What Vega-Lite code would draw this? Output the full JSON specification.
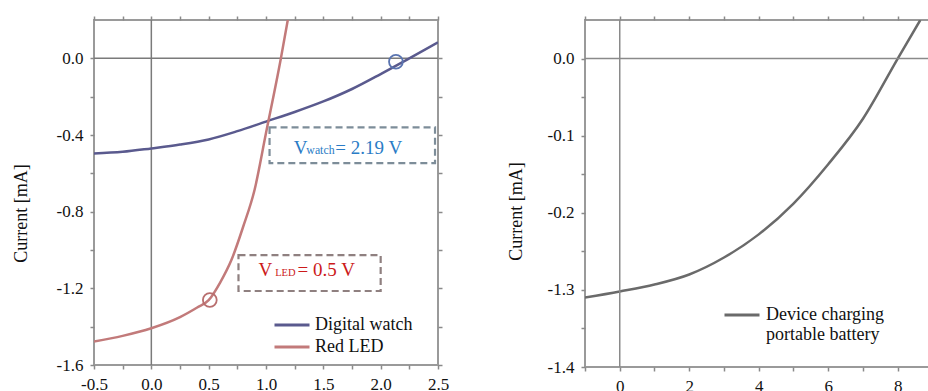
{
  "$schema": "https://vega.github.io/schema/vega-lite/v6.json",
  "background": "white",
  "padding": {"left": 11, "top": 14, "right": 0, "bottom": 0},
  "spacing": 56,
  "config": {
    "view": {"stroke": "#9a9a9a", "strokeWidth": 2},
    "font": "Liberation Serif",
    "axis": {
      "labelFont": "Liberation Serif", "labelFontSize": 17, "labelColor": "#111111",
      "titleFont": "Liberation Serif", "titleFontSize": 18, "titleFontWeight": "normal", "titleColor": "#111111",
      "domain": false, "grid": false, "tickColor": "#8a8a8a", "tickSize": 4, "tickWidth": 1.5,
      "labelFlush": false, "labelOverlap": false, "labelPadding": 7
    },
    "legend": {
      "labelFont": "Liberation Serif", "labelFontSize": 18, "labelColor": "#111111",
      "symbolType": "stroke", "symbolStrokeWidth": 3, "symbolSize": 1225, "labelOffset": 4,
      "rowPadding": 2, "padding": 0, "clipHeight": 20
    }
  },
  "resolve": {"scale": {"color": "independent"}, "legend": {"color": "independent"}},
  "datasets": {
    "left": [
      {"device": "Digital watch", "voltage": -0.5, "current": -0.496},
      {"device": "Digital watch", "voltage": -0.25, "current": -0.488},
      {"device": "Digital watch", "voltage": 0, "current": -0.47},
      {"device": "Digital watch", "voltage": 0.25, "current": -0.45},
      {"device": "Digital watch", "voltage": 0.5, "current": -0.423},
      {"device": "Digital watch", "voltage": 0.75, "current": -0.38},
      {"device": "Digital watch", "voltage": 1.0, "current": -0.33},
      {"device": "Digital watch", "voltage": 1.25, "current": -0.28},
      {"device": "Digital watch", "voltage": 1.5, "current": -0.225},
      {"device": "Digital watch", "voltage": 1.75, "current": -0.16},
      {"device": "Digital watch", "voltage": 2.0, "current": -0.082},
      {"device": "Digital watch", "voltage": 2.25, "current": 0.0},
      {"device": "Digital watch", "voltage": 2.5, "current": 0.083},
      {"device": "Red LED", "voltage": -0.5, "current": -1.478},
      {"device": "Red LED", "voltage": -0.25, "current": -1.448},
      {"device": "Red LED", "voltage": 0, "current": -1.408},
      {"device": "Red LED", "voltage": 0.25, "current": -1.35},
      {"device": "Red LED", "voltage": 0.4, "current": -1.3},
      {"device": "Red LED", "voltage": 0.5, "current": -1.262},
      {"device": "Red LED", "voltage": 0.6, "current": -1.17},
      {"device": "Red LED", "voltage": 0.7, "current": -1.05},
      {"device": "Red LED", "voltage": 0.8, "current": -0.88},
      {"device": "Red LED", "voltage": 0.9, "current": -0.687},
      {"device": "Red LED", "voltage": 1.0, "current": -0.39},
      {"device": "Red LED", "voltage": 1.13, "current": 0.0},
      {"device": "Red LED", "voltage": 1.19, "current": 0.2}
    ],
    "right": [
      {"device": "Device charging portable battery", "voltage": -1, "current": -0.31},
      {"device": "Device charging portable battery", "voltage": 0, "current": -0.302},
      {"device": "Device charging portable battery", "voltage": 1, "current": -0.293},
      {"device": "Device charging portable battery", "voltage": 2, "current": -0.28},
      {"device": "Device charging portable battery", "voltage": 3, "current": -0.258},
      {"device": "Device charging portable battery", "voltage": 4, "current": -0.228},
      {"device": "Device charging portable battery", "voltage": 5, "current": -0.188},
      {"device": "Device charging portable battery", "voltage": 6, "current": -0.137},
      {"device": "Device charging portable battery", "voltage": 7, "current": -0.078},
      {"device": "Device charging portable battery", "voltage": 8, "current": 0.0},
      {"device": "Device charging portable battery", "voltage": 8.65, "current": 0.05}
    ],
    "watchPoint": [{"voltage": 2.133, "current": -0.018}],
    "ledPoint": [{"voltage": 0.51, "current": -1.261}],
    "watchBox": [{"x1": 1.031, "x2": 2.474, "y1": -0.36, "y2": -0.547}],
    "ledBox": [{"x1": 0.76, "x2": 2.0, "y1": -1.027, "y2": -1.214}],
    "watchMain": [{"x": 1.241, "y": -0.497, "t": "V"}, {"x": 1.605, "y": -0.497, "t": "= 2.19 V"}],
    "watchSub": [{"x": 1.352, "y": -0.5, "t": "watch"}],
    "ledMain": [{"x": 0.935, "y": -1.136, "t": "V"}, {"x": 1.275, "y": -1.136, "t": "= 0.5 V"}],
    "ledSub": [{"x": 1.08, "y": -1.138, "t": "LED"}]
  },
  "hconcat": [
    {
      "width": 344,
      "height": 345,
      "layer": [
        {
          "data": {"values": [{}]},
          "mark": {"type": "rule", "color": "#7a7a7a", "strokeWidth": 1.5},
          "encoding": {
            "x": {"datum": 0, "type": "quantitative",
              "scale": {"domain": [-0.5, 2.5], "nice": false, "zero": false},
              "axis": {"orient": "top", "labels": false, "title": null,
                "values": [-0.5, -0.25, 0, 0.25, 0.5, 0.75, 1, 1.25, 1.5, 1.75, 2, 2.25, 2.5]}}
          }
        },
        {
          "data": {"values": [{}]},
          "mark": {"type": "rule", "color": "#7a7a7a", "strokeWidth": 1.5},
          "encoding": {
            "y": {"datum": 0, "type": "quantitative",
              "scale": {"domain": [-1.6, 0.2], "nice": false, "zero": false},
              "axis": {"orient": "right", "labels": false, "title": null,
                "values": [-1.6, -1.4, -1.2, -1.0, -0.8, -0.6, -0.4, -0.2, 0]}}
          }
        },
        {
          "data": {"name": "left"},
          "mark": {"type": "line", "interpolate": "monotone", "strokeWidth": 2.5, "clip": true},
          "encoding": {
            "x": {"field": "voltage", "type": "quantitative",
              "axis": {"orient": "bottom", "title": null,
                "values": [-0.5, -0.25, 0, 0.25, 0.5, 0.75, 1, 1.25, 1.5, 1.75, 2, 2.25, 2.5],
                "labelExpr": "abs(datum.value*2 - round(datum.value*2)) < 0.01 ? replace(format(datum.value, '.1f'), '\u2212', '-') : ''"}},
            "y": {"field": "current", "type": "quantitative",
              "axis": {"orient": "left", "title": "Current [mA]", "titlePadding": 26, "titleY": 193,
                "values": [-1.6, -1.4, -1.2, -1.0, -0.8, -0.6, -0.4, -0.2, 0],
                "labelExpr": "abs(datum.value/0.4 - round(datum.value/0.4)) < 0.01 ? replace(format(datum.value, '.1f'), '\u2212', '-') : ''"}},
            "color": {"field": "device", "type": "nominal",
              "scale": {"domain": ["Digital watch", "Red LED"], "range": ["#5a5a8e", "#c27a7a"]},
              "legend": {"orient": "none", "legendX": 179, "legendY": 295, "title": null,
                "labelFont": "Liberation Serif", "labelFontSize": 18}}
          }
        },
        {
          "data": {"name": "watchPoint"},
          "mark": {"type": "point", "filled": false, "size": 190, "strokeWidth": 1.8, "color": "#5a74b0", "opacity": 1},
          "encoding": {
            "x": {"field": "voltage", "type": "quantitative", "axis": null},
            "y": {"field": "current", "type": "quantitative", "axis": null}
          }
        },
        {
          "data": {"name": "ledPoint"},
          "mark": {"type": "point", "filled": false, "size": 190, "strokeWidth": 1.8, "color": "#b86e6e", "opacity": 1},
          "encoding": {
            "x": {"field": "voltage", "type": "quantitative", "axis": null},
            "y": {"field": "current", "type": "quantitative", "axis": null}
          }
        },
        {
          "data": {"name": "watchBox"},
          "mark": {"type": "rect", "fill": "white", "fillOpacity": 0, "stroke": "#7d8d99", "strokeWidth": 2.2, "strokeDash": [7, 4]},
          "encoding": {
            "x": {"field": "x1", "type": "quantitative", "axis": null},
            "x2": {"field": "x2"},
            "y": {"field": "y1", "type": "quantitative", "axis": null},
            "y2": {"field": "y2"}
          }
        },
        {
          "data": {"name": "ledBox"},
          "mark": {"type": "rect", "fill": "white", "fillOpacity": 0, "stroke": "#8f8080", "strokeWidth": 2.2, "strokeDash": [7, 4]},
          "encoding": {
            "x": {"field": "x1", "type": "quantitative", "axis": null},
            "x2": {"field": "x2"},
            "y": {"field": "y1", "type": "quantitative", "axis": null},
            "y2": {"field": "y2"}
          }
        },
        {
          "data": {"name": "watchMain"},
          "mark": {"type": "text", "align": "left", "baseline": "alphabetic", "fontSize": 19, "font": "Liberation Serif", "color": "#2a7cc6"},
          "encoding": {
            "x": {"field": "x", "type": "quantitative", "axis": null},
            "y": {"field": "y", "type": "quantitative", "axis": null},
            "text": {"field": "t"}
          }
        },
        {
          "data": {"name": "watchSub"},
          "mark": {"type": "text", "align": "left", "baseline": "alphabetic", "fontSize": 11.8, "font": "Liberation Serif", "color": "#2a7cc6"},
          "encoding": {
            "x": {"field": "x", "type": "quantitative", "axis": null},
            "y": {"field": "y", "type": "quantitative", "axis": null},
            "text": {"field": "t"}
          }
        },
        {
          "data": {"name": "ledMain"},
          "mark": {"type": "text", "align": "left", "baseline": "alphabetic", "fontSize": 19, "font": "Liberation Serif", "color": "#cc1a1a"},
          "encoding": {
            "x": {"field": "x", "type": "quantitative", "axis": null},
            "y": {"field": "y", "type": "quantitative", "axis": null},
            "text": {"field": "t"}
          }
        },
        {
          "data": {"name": "ledSub"},
          "mark": {"type": "text", "align": "left", "baseline": "alphabetic", "fontSize": 10.5, "font": "Liberation Serif", "color": "#cc1a1a"},
          "encoding": {
            "x": {"field": "x", "type": "quantitative", "axis": null},
            "y": {"field": "y", "type": "quantitative", "axis": null},
            "text": {"field": "t"}
          }
        }
      ]
    },
    {
      "width": 344,
      "height": 347,
      "layer": [
        {
          "data": {"name": "right"},
          "mark": {"type": "line", "interpolate": "monotone", "strokeWidth": 2.5, "clip": true},
          "encoding": {
            "x": {"field": "voltage", "type": "quantitative",
              "scale": {"domain": [-1, 8.9], "nice": false, "zero": false},
              "axis": {"orient": "bottom", "title": null,
                "values": [-1, 0, 1, 2, 3, 4, 5, 6, 7, 8],
                "labelExpr": "datum.value >= 0 && abs(datum.value % 2) < 0.01 ? format(datum.value, 'd') : ''"}},
            "y": {"field": "current", "type": "quantitative",
              "scale": {"domain": [-0.4, 0.05], "nice": false, "zero": false},
              "axis": {"orient": "left", "title": "Current [mA]", "titlePadding": 22, "titleY": 191,
                "values": [-0.4, -0.35, -0.3, -0.25, -0.2, -0.15, -0.1, -0.05, 0],
                "labelExpr": "abs(datum.value) < 0.001 ? '0.0' : abs(datum.value + 0.1) < 0.001 ? '-0.1' : abs(datum.value + 0.2) < 0.001 ? '-0.2' : abs(datum.value + 0.3) < 0.001 ? '-1.3' : abs(datum.value + 0.4) < 0.001 ? '-1.4' : ''"}},
            "color": {"field": "device", "type": "nominal",
              "scale": {"domain": ["Device charging portable battery"], "range": ["#6a6a6a"]},
              "legend": {"orient": "none", "legendX": 138, "legendY": 285, "title": null,
                "labelFont": "Liberation Serif", "labelFontSize": 18, "labelOffset": 5,
                "labelExpr": "['Device charging', 'portable battery']", "labelLimit": 300}}
          }
        },
        {
          "data": {"values": [{}]},
          "mark": {"type": "rule", "color": "#8a8a8a", "strokeWidth": 1.5},
          "encoding": {
            "x": {"datum": 0, "type": "quantitative",
              "axis": {"orient": "top", "labels": false, "title": null,
                "values": [-1, 0, 1, 2, 3, 4, 5, 6, 7, 8]}}
          }
        },
        {
          "data": {"values": [{}]},
          "mark": {"type": "rule", "color": "#8a8a8a", "strokeWidth": 1.5},
          "encoding": {
            "y": {"datum": 0, "type": "quantitative",
              "axis": {"orient": "right", "labels": false, "ticks": false, "title": null}}
          }
        }
      ]
    }
  ]
}
